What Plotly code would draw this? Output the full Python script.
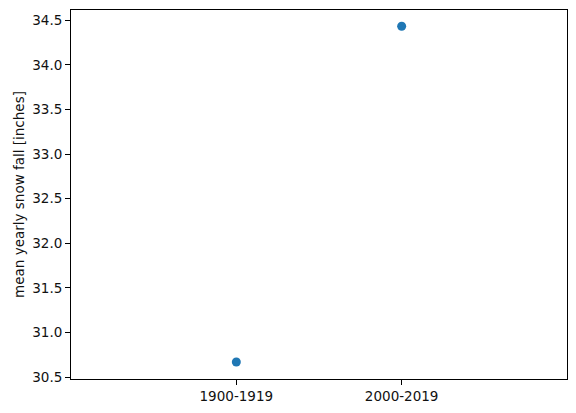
import plotly.graph_objects as go

periods = ["1900-1919", "2000-2019"]
mean_snowfall = [30.668, 34.433]

fig = go.Figure()
fig.add_trace(go.Scatter(
    x=periods, y=mean_snowfall, mode="markers",
    marker=dict(color="#1f77b4", size=9),
    showlegend=False,
))

axis_common = dict(
    showline=True, linecolor="black", linewidth=1, mirror=True,
    ticks="outside", ticklen=5, tickwidth=1, tickcolor="black",
    showgrid=False, zeroline=False, automargin=False,
    tickfont=dict(family="DejaVu Sans", size=13.5, color="#111"),
)

fig.update_layout(
    width=576, height=413,
    margin=dict(l=70.5, r=9.3, t=10, b=33.7),
    paper_bgcolor="white", plot_bgcolor="white",
    xaxis=dict(type="category", range=[-1, 2], **axis_common),
    yaxis=dict(
        range=[30.478, 34.615],
        tickvals=[30.5, 31.0, 31.5, 32.0, 32.5, 33.0, 33.5, 34.0, 34.5],
        ticktext=["30.5", "31.0", "31.5", "32.0", "32.5", "33.0", "33.5", "34.0", "34.5"],
        title=dict(text="mean yearly snow fall [inches]",
                   font=dict(family="DejaVu Sans", size=13.5, color="#111"),
                   standoff=4),
        **axis_common,
    ),
)

fig.write_html("out.html", config={"displayModeBar": False},
               post_script="document.body.style.margin='0';")
